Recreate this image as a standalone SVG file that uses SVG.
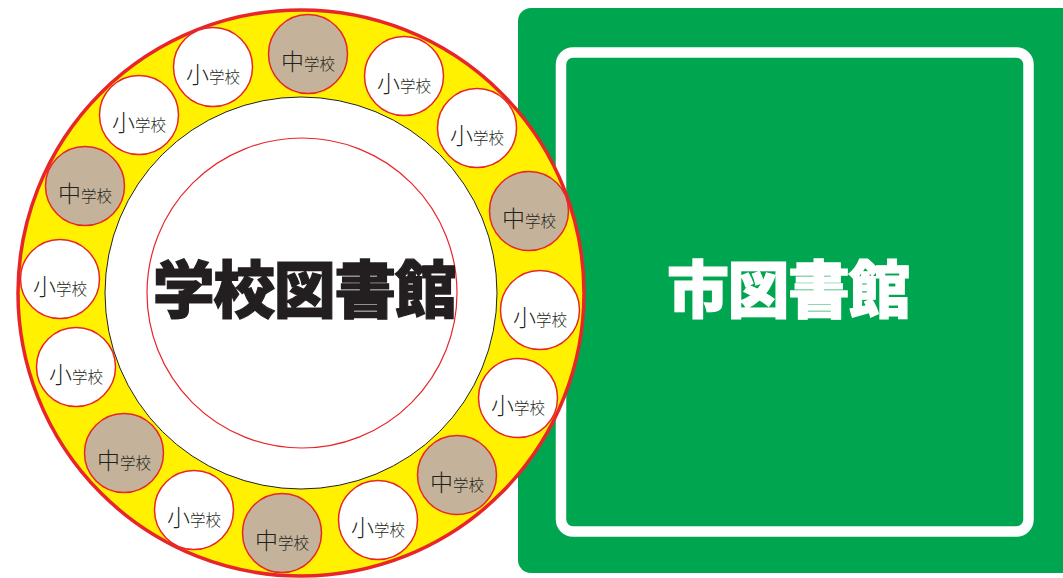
<svg xmlns="http://www.w3.org/2000/svg" width="1063" height="578" viewBox="0 0 1063 578">
<style>
.sc{stroke:#e8262a;stroke-width:1.5}
.sho{fill:#ffffff}
.chu{fill:#c4b39a}
.lbl{font-family:"Noto Sans CJK JP","Noto Sans CJK SC",sans-serif;font-weight:300;fill:#231f20;text-anchor:middle}
.big{font-size:23px}
.sm{font-size:15.5px}
.title{font-family:"Noto Sans CJK JP","Noto Sans CJK SC",sans-serif;font-weight:900;font-size:62px;letter-spacing:-1.5px;text-anchor:middle;stroke-width:1.2;stroke-linejoin:miter}
</style>
<rect width="1063" height="578" fill="#ffffff"/>
<g id="city-library">
<rect x="518" y="8" width="560" height="565" rx="13" fill="#00a54f"/>
<rect x="561" y="52.5" width="467.5" height="479" rx="12" fill="none" stroke="#ffffff" stroke-width="10.5"/>
<text class="title" x="788" y="313" fill="#ffffff" stroke="#ffffff">市図書館</text>
</g>
<g id="school-ring">
<circle cx="301" cy="293" r="283" fill="#fff100" stroke="#e8262a" stroke-width="3.5"/>
<circle cx="301" cy="293" r="196" fill="#ffffff" stroke="#231f20" stroke-width="1"/>
</g>
<g id="schools">
<g id="s1"><circle class="sc chu" cx="308" cy="54" r="39.5"/><text class="lbl" x="308" y="70"><tspan class="big">中</tspan><tspan class="sm">学校</tspan></text></g>
<g id="s2"><circle class="sc sho" cx="404" cy="76" r="39.5"/><text class="lbl" x="404" y="92"><tspan class="big">小</tspan><tspan class="sm">学校</tspan></text></g>
<g id="s3"><circle class="sc sho" cx="477" cy="128" r="39.5"/><text class="lbl" x="477" y="144"><tspan class="big">小</tspan><tspan class="sm">学校</tspan></text></g>
<g id="s4"><circle class="sc chu" cx="529" cy="211" r="39.5"/><text class="lbl" x="529" y="227"><tspan class="big">中</tspan><tspan class="sm">学校</tspan></text></g>
<g id="s5"><circle class="sc sho" cx="540" cy="310" r="39.5"/><text class="lbl" x="540" y="326"><tspan class="big">小</tspan><tspan class="sm">学校</tspan></text></g>
<g id="s6"><circle class="sc sho" cx="518" cy="398" r="39.5"/><text class="lbl" x="518" y="414"><tspan class="big">小</tspan><tspan class="sm">学校</tspan></text></g>
<g id="s7"><circle class="sc chu" cx="457" cy="475" r="39.5"/><text class="lbl" x="457" y="491"><tspan class="big">中</tspan><tspan class="sm">学校</tspan></text></g>
<g id="s8"><circle class="sc sho" cx="378" cy="520" r="39.5"/><text class="lbl" x="378" y="536"><tspan class="big">小</tspan><tspan class="sm">学校</tspan></text></g>
<g id="s9"><circle class="sc chu" cx="282" cy="533" r="39.5"/><text class="lbl" x="282" y="549"><tspan class="big">中</tspan><tspan class="sm">学校</tspan></text></g>
<g id="s10"><circle class="sc sho" cx="194" cy="510" r="39.5"/><text class="lbl" x="194" y="526"><tspan class="big">小</tspan><tspan class="sm">学校</tspan></text></g>
<g id="s11"><circle class="sc chu" cx="124" cy="453" r="39.5"/><text class="lbl" x="124" y="469"><tspan class="big">中</tspan><tspan class="sm">学校</tspan></text></g>
<g id="s12"><circle class="sc sho" cx="76" cy="367" r="39.5"/><text class="lbl" x="76" y="383"><tspan class="big">小</tspan><tspan class="sm">学校</tspan></text></g>
<g id="s13"><circle class="sc sho" cx="60" cy="279" r="39.5"/><text class="lbl" x="60" y="295"><tspan class="big">小</tspan><tspan class="sm">学校</tspan></text></g>
<g id="s14"><circle class="sc chu" cx="85" cy="186" r="39.5"/><text class="lbl" x="85" y="202"><tspan class="big">中</tspan><tspan class="sm">学校</tspan></text></g>
<g id="s15"><circle class="sc sho" cx="139" cy="115" r="39.5"/><text class="lbl" x="139" y="131"><tspan class="big">小</tspan><tspan class="sm">学校</tspan></text></g>
<g id="s16"><circle class="sc sho" cx="213" cy="67" r="39.5"/><text class="lbl" x="213" y="83"><tspan class="big">小</tspan><tspan class="sm">学校</tspan></text></g>
</g>
<g id="school-library">
<circle cx="302" cy="293" r="155" fill="#ffffff" stroke="#e8262a" stroke-width="1.2"/>
<text class="title" x="304" y="313" fill="#231f20" stroke="#231f20">学校図書館</text>
</g>
<g id="connectors"/>
</svg>
